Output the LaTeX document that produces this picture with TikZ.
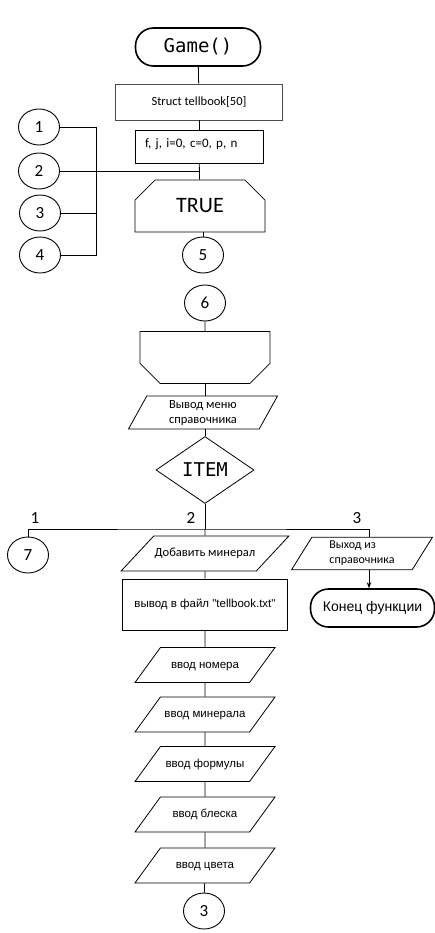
\documentclass[tikz,border=0pt]{standalone}
\usepackage{fontspec}
\setmainfont{Carlito}
\newfontfamily\arialfont{Liberation Sans}
\newfontfamily\monofont{DejaVu Sans Mono}
\usetikzlibrary{shapes.geometric,shapes.misc,arrows.meta}

\begin{document}
\begin{tikzpicture}[x=1pt,y=-1pt,
  every node/.style = {align=center, inner sep=1pt},
  term/.style = {draw, line width=1.6pt, rounded corners=18pt,
    minimum width=125pt, minimum height=38pt},
  proc/.style = {draw, line width=0.8pt},
  io/.style = {draw, line width=0.8pt, trapezium, trapezium stretches body,
    trapezium left angle=54, trapezium right angle=126,
    text height=8.5pt, text depth=2.5pt, inner ysep=12pt, minimum width=140pt},
  twoline/.style = {text height={}, text depth={}, inner ysep=4pt, align=left},
  loopbox/.style = {draw, line width=0.8pt, chamfered rectangle,
    chamfered rectangle xsep=11pt, chamfered rectangle ysep=12pt,
    minimum width=130pt, minimum height=52pt, font=\fontsize{22}{22}\selectfont},
  conn/.style = {draw, ellipse, line width=0.9pt, inner sep=0pt,
    minimum width=41pt, minimum height=36pt,
    font=\fontsize{17}{17}\selectfont},
  lbl/.style = {font=\fontsize{17}{17}\selectfont},
  every path/.style = {line width=0.8pt}]
  \useasboundingbox (0,0) rectangle (435,933);

  % start and declarations
  \node[term, font=\monofont\fontsize{19}{19}\selectfont] (game) at (198,47) {Game()};
  \node[proc, draw=black!70, minimum width=167pt, minimum height=36pt,
    font=\fontsize{12.5}{14}\selectfont] (struct) at (199,102) {Struct tellbook[50]};
  \node[proc, minimum width=128pt, minimum height=33pt, text width=108pt, align=left,
    font=\fontsize{13}{14}\selectfont] (vars) at (199,146.5) {f, j, i=0, c=0, p, n\rule[-6pt]{0pt}{0pt}};
  \node[loopbox, chamfered rectangle corners={north west,north east}] (true) at (200,206) {TRUE};
  \node[conn] (c5) at (203,255) {5};

  % return points
  \node[conn] (c1) at (39,127) {1};
  \node[conn] (c2) at (39,171) {2};
  \node[conn] (c3) at (40,213) {3};
  \node[conn] (c4) at (40,255) {4};
  \coordinate (bus) at (96,0);

  \draw (game) -- (struct);
  \draw (struct) -- (vars);
  \draw (vars) -- (true);
  \draw (true.south -| c5) -- (c5);
  \draw (c2) -- (c2 -| vars.south);
  \draw (c1) -- (c1 -| bus) -- (c4 -| bus) -- (c4);
  \draw (c3) -- (c3 -| bus);

  % menu loop
  \node[conn] (c6) at (205,303) {6};
  \node[loopbox, chamfered rectangle corners={south west,south east}] (loopend) at (205,357.5) {\phantom{TRUE}};
  \node[io, twoline, trapezium left angle=61, trapezium right angle=119, minimum width=149pt,
    font=\fontsize{12.5}{15}\selectfont] (menu) at (203,412.5) {Вывод меню\\справочника};
  \node[draw, diamond, line width=0.8pt, inner sep=0pt, minimum width=98pt, minimum height=67pt,
    font=\monofont\fontsize{19}{19}\selectfont] (item) at (205,470) {ITEM};

  \draw (c6) -- (loopend);
  \draw (loopend.south) -- (loopend.south |- menu.north);
  \draw (loopend.south |- menu.south) -- (item);

  % branches
  \coordinate (split) at (205,529);
  \coordinate (right) at (369,529);
  \node[lbl] (l1) at (35,518) {1};
  \node[lbl] (l2) at (191,518) {2};
  \node[lbl] (l3) at (357,518) {3};

  \node[conn] (c7) at (28,555) {7};
  \node[io, trapezium left angle=47, trapezium right angle=133, minimum width=151pt,
    font=\fontsize{12.5}{14}\selectfont] (add) at (205,553.5) {Добавить минерал};
  \node[io, twoline, trapezium left angle=58, trapezium right angle=122, minimum width=141pt,
    font=\fontsize{12}{15}\selectfont] (exit) at (362,553.5) {Выход из\\справочника};
  \node[term, minimum width=124pt, font=\arialfont\fontsize{14}{14}\selectfont] (fin) at (372.5,608) {Конец функции};

  \draw (item) -- (split);
  \draw (c7) |- (split) -- (right) -- (right |- exit.north);
  \draw (split) -- (add);
  \draw[-{Stealth[length=6pt]}] (right |- exit.south) -- (right |- fin.north);

  % input chain
  \begin{scope}[every node/.append style={font=\arialfont\fontsize{11.5}{14}\selectfont}]
    \node[proc, minimum width=165pt, minimum height=51pt] (file) at (205,604.5) {вывод в файл "tellbook.txt"};
    \node[io] (num) at (205,665) {ввод номера};
    \node[io] (mineral) at (205,714.5) {ввод минерала};
    \node[io] (formula) at (205,764) {ввод формулы};
    \node[io] (shine) at (205,814.5) {ввод блеска};
    \node[io] (color) at (205,865.5) {ввод цвета};
  \end{scope}
  \node[conn] (c3b) at (204,911) {3};

  \draw (add) -- (file);
  \draw (file) -- (num);
  \draw (num) -- (mineral);
  \draw (mineral) -- (formula);
  \draw (formula) -- (shine);
  \draw (shine) -- (color);
  \draw (color) -- (c3b);
\end{tikzpicture}
\end{document}
